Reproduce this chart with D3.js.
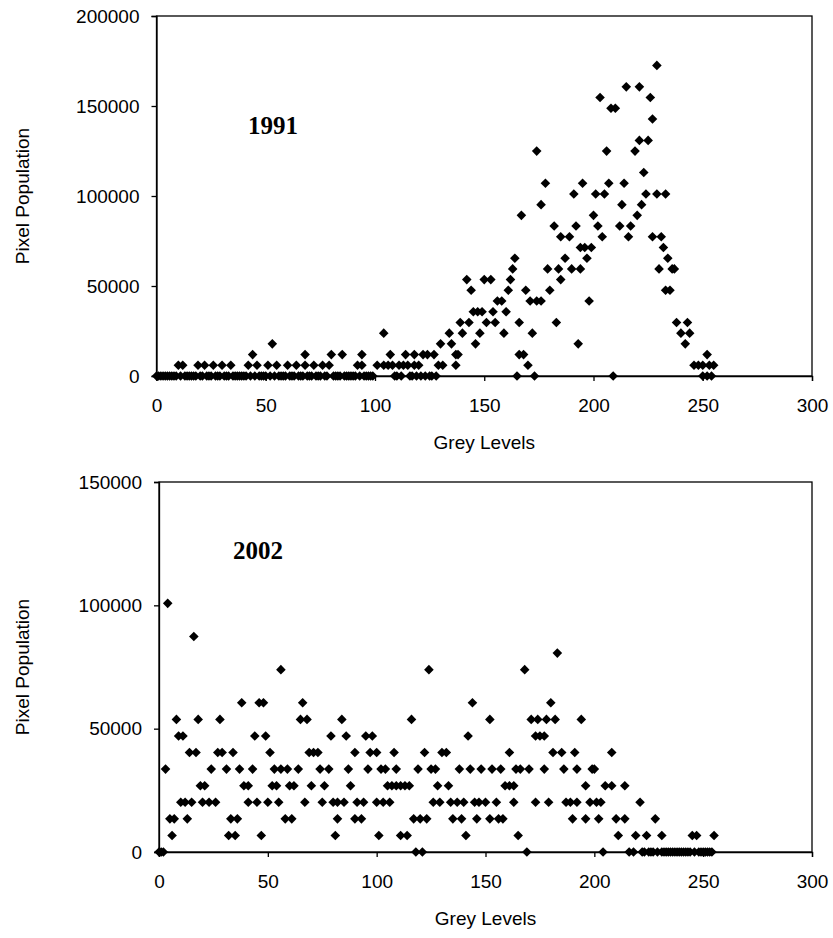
<!DOCTYPE html>
<html>
<head>
<meta charset="utf-8">
<script src="https://d3js.org/d3.v7.min.js"></script>
<style>
  body { margin: 0; background: #fff; }
  text { font-family: Arial, "Liberation Sans", sans-serif; }
</style>
</head>
<body>
<svg id="chart" width="833" height="938"></svg>
<script>
// pixel counts are quantised: each level lists the grey levels that sit on it
var levels1991 = [0, 5950, 11900, 17850, 23800, 29750, 35700, 41650, 47600, 53550,
                  59500, 65450, 71400, 77350, 83300, 89250, 95200, 101150, 107100, 113050,
                  119000, 124950, 130900, 136850, 142800, 148750, 154700, 160650, 166600, 172550];
var grey1991 = [
  [0,1,2,3,4,5,6,7,8,9,11,13,14,15,16,17,18,20,21,23,24,25,27,28,29,31,32,33,35,36,37,38,39,40,41,
   43,45,47,48,49,50,52,54,56,57,58,59,61,62,63,65,66,67,69,70,71,73,74,75,77,78,81,82,83,84,86,87,
   88,89,90,91,93,95,96,97,98,99,109,110,112,116,117,119,121,123,125,126,128,165,173,209,250,252,254],
  [10,12,19,22,26,30,34,42,46,51,55,60,64,68,72,76,79,92,94,101,104,106,108,111,113,115,118,120,
   129,131,137,170,246,248,250,253,255],
  [44,68,80,85,94,107,114,118,122,124,127,137,138,166,168,252],
  [53,130,135,146,193,242],
  [104,134,140,148,159,172,240,244],
  [139,143,151,155,166,183,238,243],
  [145,147,149,154,160],
  [156,158,171,174,176,198],
  [144,161,169,180,233,235],
  [142,150,153,162,185],
  [163,179,184,190,194,230,236,237],
  [164,187,197,234],
  [194,196,199,232],
  [185,189,204,216,227,231],
  [182,192,202,212,217],
  [167,200,220],
  [176,213,222],
  [191,201,205,224,229,233],
  [178,195,207,214],
  [223],
  [],
  [174,206,219],
  [221,225],
  [],
  [227],
  [208,210],
  [203,226],
  [215,221],
  [],
  [229]
];

var levels2002 = [0, 6720, 13440, 20160, 26880, 33600, 40320, 47040, 53760, 60480,
                  67200, 73920, 80640, 87360, 94080, 100800];
var grey2002 = [
  [0,1,2,118,121,169,204,216,218,222,223,225,226,227,229,231,232,233,234,235,236,237,238,239,
   240,241,242,243,244,246,248,249,250,251,252,253,254],
  [6,32,35,47,81,101,111,114,141,165,211,219,224,231,245,247,255],
  [5,7,13,33,36,58,61,82,90,93,117,120,123,135,139,146,152,156,158,190,196,202,210,214,228],
  [10,12,15,20,23,26,41,45,50,55,67,75,80,82,85,91,94,100,103,106,126,129,134,137,140,145,147,
   150,155,163,173,179,187,189,192,198,201,203,221],
  [19,21,39,41,52,54,60,62,70,76,88,105,107,109,111,113,115,128,133,159,161,163,196,205,208,214],
  [3,24,31,37,43,53,56,59,64,74,78,87,96,102,104,109,119,125,127,138,143,148,153,157,164,166,
   170,177,186,192,199,200],
  [14,17,27,29,34,51,69,71,73,90,97,100,108,122,130,132,161,181,185,191,208],
  [9,11,44,49,79,86,95,98,142,173,175,177],
  [8,18,28,65,68,84,116,152,171,174,178,182,194],
  [38,46,48,66,144,180],
  [],
  [56,124,168],
  [183],
  [16],
  [],
  [4]
];

var xTicks = [0, 50, 100, 150, 200, 250, 300];
var yTicks1991 = [0, 50000, 100000, 150000, 200000];
var yTicks2002 = [0, 50000, 100000, 150000];

var svg = d3.select("#chart");

function toPoints(levels, greys) {
  var pts = [];
  levels.forEach(function(v, i) {
    greys[i].forEach(function(g) { pts.push({ grey: g, pixels: v }); });
  });
  return pts;
}

function drawPanel(p) {
  var x = d3.scaleLinear().domain([0, 300]).range([p.left, p.right]);
  var y = d3.scaleLinear().domain([0, p.yMax]).range([p.bottom, p.top]);
  var g = svg.append("g");

  g.append("rect")
    .attr("x", p.left).attr("y", p.top)
    .attr("width", p.right - p.left).attr("height", p.bottom - p.top)
    .attr("fill", "none").attr("stroke", "#000").attr("stroke-width", 1.3);

  var xAxis = g.append("g")
    .attr("transform", "translate(0," + p.bottom + ")")
    .call(d3.axisBottom(x).tickValues(xTicks).tickSize(5).tickPadding(18));
  var yAxis = g.append("g")
    .attr("transform", "translate(" + p.left + ",0)")
    .call(d3.axisLeft(y).tickValues(p.yTicks).tickFormat(d3.format("d")).tickSize(5).tickPadding(12));

  [xAxis, yAxis].forEach(function(a) {
    a.selectAll("path, line").attr("stroke", "#000").attr("stroke-width", 1.3);
    a.selectAll("text").attr("font-size", 19).attr("fill", "#000")
      .style("font-family", "Arial, 'Liberation Sans', sans-serif");
  });

  var diamond = d3.symbol().type(d3.symbolSquare).size(46);
  g.selectAll("path.pt").data(toPoints(p.levels, p.greys)).enter().append("path")
    .attr("class", "pt")
    .attr("d", diamond)
    .attr("transform", function(d) {
      return "translate(" + x(d.grey) + "," + y(d.pixels) + ") rotate(45)";
    })
    .attr("fill", "#000");

  g.append("text")
    .attr("x", (p.left + p.right) / 2).attr("y", p.bottom + 73)
    .attr("text-anchor", "middle").attr("font-size", 19)
    .text("Grey Levels");

  g.append("text")
    .attr("transform", "translate(29," + ((p.top + p.bottom) / 2) + ") rotate(-90)")
    .attr("text-anchor", "middle").attr("font-size", 19)
    .text("Pixel Population");

  g.append("text")
    .attr("x", p.labelX).attr("y", p.labelY)
    .attr("font-size", 25).attr("font-weight", "bold")
    .style("font-family", "'Times New Roman', 'Liberation Serif', serif")
    .text(p.label);
}

drawPanel({ left: 156.5, right: 812, top: 16, bottom: 376, yMax: 200000, yTicks: yTicks1991,
            levels: levels1991, greys: grey1991, label: "1991", labelX: 248, labelY: 134 });
drawPanel({ left: 159, right: 812, top: 482, bottom: 852, yMax: 150000, yTicks: yTicks2002,
            levels: levels2002, greys: grey2002, label: "2002", labelX: 233, labelY: 559 });
</script>
</body>
</html>
